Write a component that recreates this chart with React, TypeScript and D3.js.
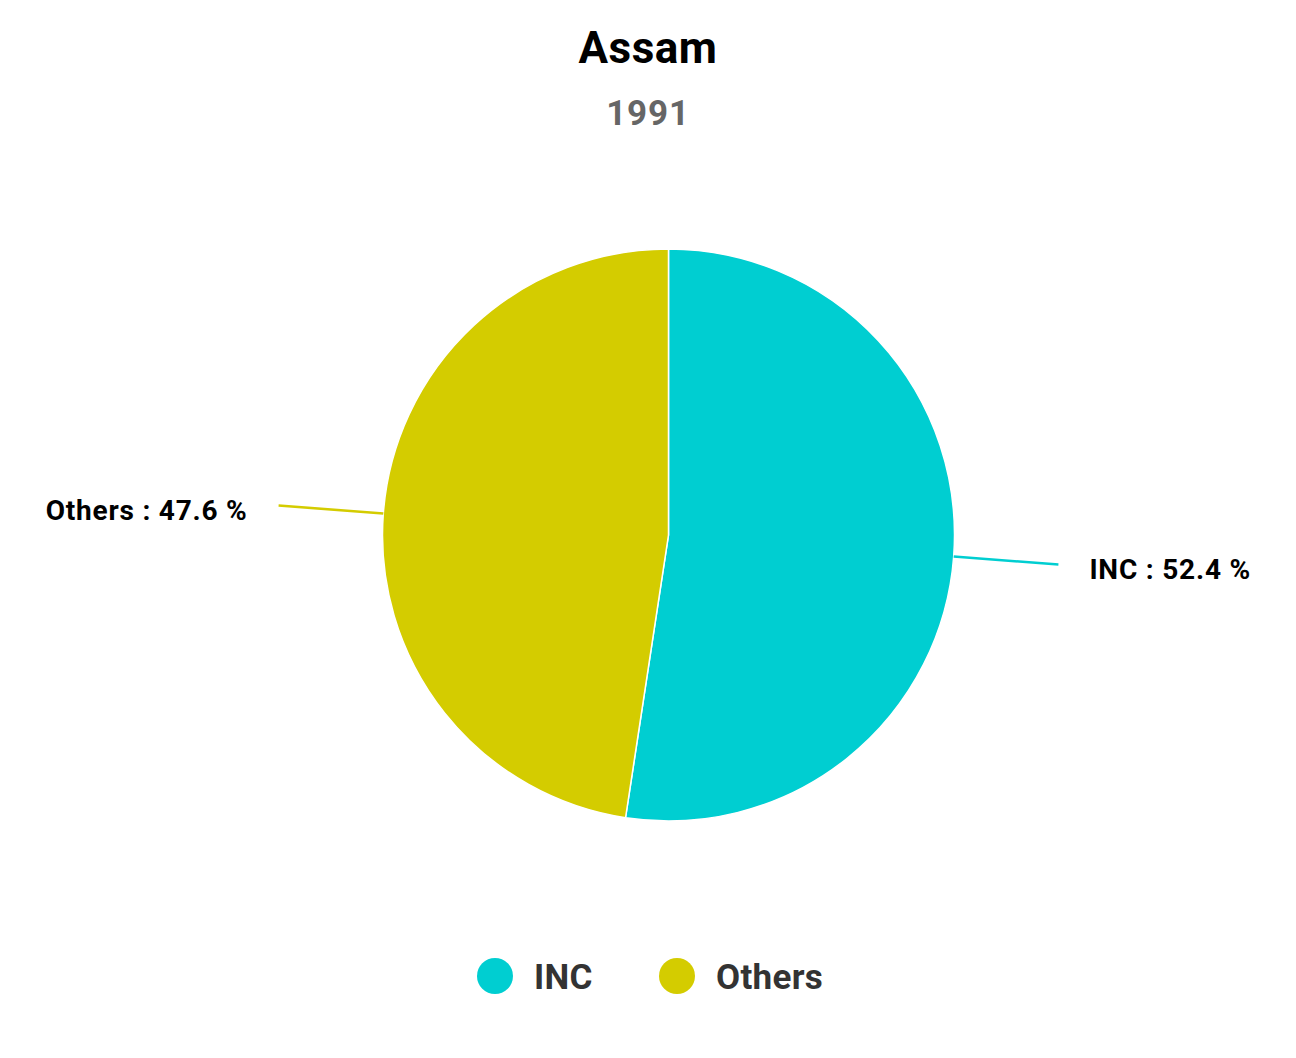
import React from "react";
import * as d3 from "d3";

const categories = ["INC", "Others"];
const values = [52.4, 47.6];
const colors = ["#00CED1", "#D4CC00"];
const title = "Assam";
const subtitle = "1991";

const W = 1296;
const H = 1058;

export default function App() {
  const cx = 668.5;
  const cy = 535;
  const r = 286;
  const data = categories.map((c, i) => ({ name: c, value: values[i], color: colors[i] }));
  const pie = d3.pie<any>().value((d: any) => d.value).sort(null);
  const arcs = pie(data);
  const arc = d3.arc<any>().innerRadius(0).outerRadius(r);

  return (
    <svg width={W} height={H} style={{ position: "absolute", left: 0, top: 0, fontFamily: "Roboto" }}>
      <rect width={W} height={H} fill="#fff" />
      <text x={W / 2} y={63} textAnchor="middle" fontSize={44} fontWeight="bold" letterSpacing={0.5} fill="#000">{title}</text>
      <text x={W / 2} y={125} textAnchor="middle" fontSize={35} fontWeight="bold" letterSpacing={0.8} fill="#666">{subtitle}</text>
      <g transform={`translate(${cx},${cy})`}>
        {arcs.map((a, i) => (
          <path key={i} d={arc(a) as string} fill={a.data.color} stroke="#fff" strokeWidth={1.5} />
        ))}
        {arcs.map((a, i) => {
          const mid = (a.startAngle + a.endAngle) / 2;
          const sx = Math.sin(mid), sy = -Math.cos(mid);
          const r2 = r + 105;
          const right = sx > 0;
          const tx = sx * r2 + (right ? 31 : -31);
          return (
            <g key={"l" + i}>
              <line x1={sx * r} y1={sy * r} x2={sx * r2} y2={sy * r2} stroke={a.data.color} strokeWidth={2.5} />
              <text x={tx} y={sy * r2 + 5} dy="0.35em" textAnchor={right ? "start" : "end"} fontSize={28} fontWeight="bold" letterSpacing={0.8} fill="#000">
                {`${a.data.name} : ${d3.format(".1f")(a.data.value)} %`}
              </text>
            </g>
          );
        })}
      </g>
      <g>
        {data.map((d, i) => {
          const x0 = i === 0 ? 495 : 677;
          return (
            <g key={"lg" + i}>
              <circle cx={x0} cy={976} r={18} fill={d.color} />
              <text x={x0 + 39} y={977} dy="0.35em" fontSize={35} fontWeight="bold" letterSpacing={0.3} fill="#333">{d.name}</text>
            </g>
          );
        })}
      </g>
    </svg>
  );
}
